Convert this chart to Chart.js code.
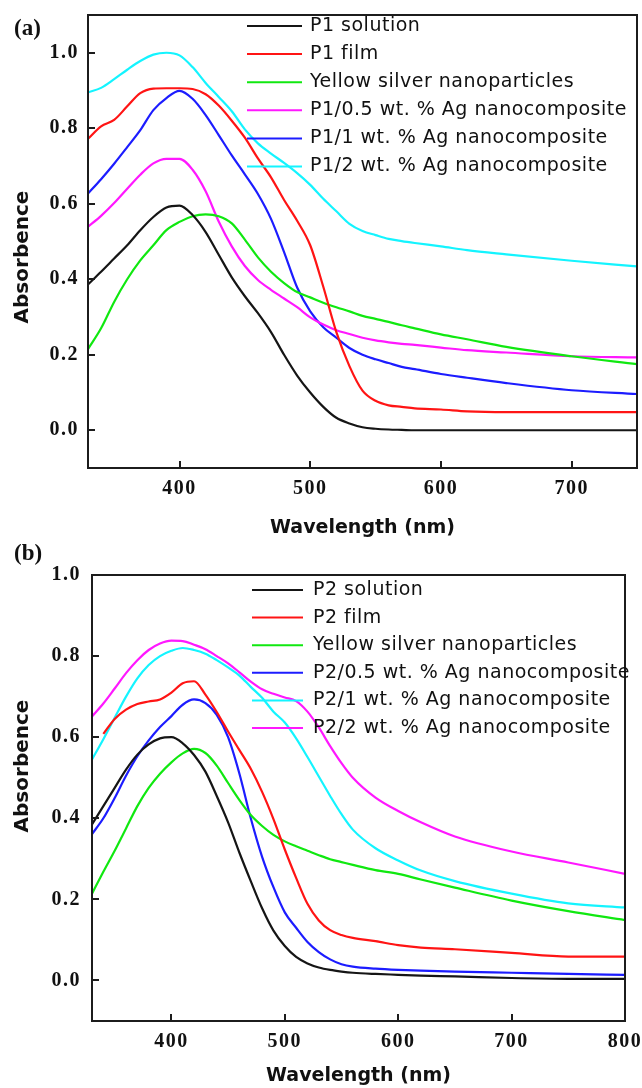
<!DOCTYPE html>
<html lang="en">
<head>
<meta charset="UTF-8">
<title>UV-vis absorbence: P1 / P2 silver nanocomposites</title>
<script src="https://cdn.jsdelivr.net/npm/chart.js@4.4.1/dist/chart.umd.min.js"></script>
<style>
  html, body { margin: 0; padding: 0; background: #fff; }
  .page { width: 642px; height: 1088px; position: relative; }
  canvas { display: block; }
</style>
</head>
<body>
<div class="page">
  <canvas id="chartA" width="642" height="544"></canvas>
  <canvas id="chartB" width="642" height="544"></canvas>
</div>
<script>
// ---------- panel (a) ----------
const wavelengthA = [330, 340, 350, 360, 370, 380, 390, 400, 410, 420, 430, 440, 450, 460, 470, 480,
                     490, 500, 510, 520, 530, 540, 550, 560, 570, 580, 600, 620, 650, 700, 750];
const p1Solution = [0.386, 0.42, 0.455, 0.49, 0.53, 0.565, 0.59, 0.595, 0.57, 0.525, 0.465, 0.405, 0.355, 0.31, 0.26, 0.2,
                    0.145, 0.1, 0.062, 0.033, 0.018, 0.008, 0.004, 0.002, 0.001, 0, 0, 0, 0, 0, 0];
const p1Film = [0.772, 0.805, 0.822, 0.858, 0.893, 0.905, 0.906, 0.906, 0.904, 0.89, 0.86, 0.82, 0.775, 0.72, 0.67, 0.61,
                0.555, 0.49, 0.38, 0.26, 0.17, 0.105, 0.078, 0.066, 0.062, 0.058, 0.055, 0.05, 0.048, 0.048, 0.048];
const silverA = [0.215, 0.27, 0.34, 0.40, 0.45, 0.49, 0.53, 0.552, 0.567, 0.572, 0.567, 0.548, 0.505, 0.458, 0.42, 0.39,
                 0.366, 0.352, 0.338, 0.326, 0.315, 0.303, 0.295, 0.287, 0.278, 0.27, 0.254, 0.241, 0.221, 0.196, 0.175];
const p1Ag05 = [0.539, 0.568, 0.602, 0.64, 0.677, 0.707, 0.719, 0.719, 0.69, 0.633, 0.553, 0.487, 0.435, 0.398, 0.372, 0.349,
                0.326, 0.299, 0.28, 0.265, 0.255, 0.245, 0.238, 0.233, 0.229, 0.226, 0.219, 0.212, 0.206, 0.196, 0.193];
const p1Ag1 = [0.627, 0.665, 0.706, 0.75, 0.795, 0.848, 0.88, 0.899, 0.878, 0.835, 0.782, 0.728, 0.678, 0.626, 0.56, 0.472,
               0.378, 0.315, 0.273, 0.245, 0.218, 0.2, 0.188, 0.178, 0.168, 0.162, 0.149, 0.139, 0.125, 0.106, 0.096];
const p1Ag2 = [0.895, 0.907, 0.93, 0.955, 0.978, 0.995, 1.0, 0.993, 0.962, 0.92, 0.883, 0.845, 0.797, 0.76, 0.733, 0.708,
               0.681, 0.65, 0.613, 0.58, 0.547, 0.528, 0.517, 0.507, 0.501, 0.496, 0.487, 0.477, 0.466, 0.449, 0.434];
const labelsA = ['P1 solution', 'P1 film', 'Yellow silver nanoparticles', 'P1/0.5 wt. % Ag nanocomposite',
                 'P1/1 wt. % Ag nanocomposite', 'P1/2 wt. % Ag nanocomposite'];
const xTicksA = [400, 500, 600, 700];

// ---------- panel (b) ----------
const wavelengthB = [330, 340, 350, 360, 370, 380, 390, 400, 410, 420, 430, 440, 450, 460, 470, 480,
                     490, 500, 510, 520, 530, 540, 550, 560, 580, 600, 620, 650, 700, 750, 800];
const p2Solution = [0.385, 0.43, 0.475, 0.52, 0.557, 0.582, 0.597, 0.6, 0.585, 0.556, 0.515, 0.455, 0.39, 0.315, 0.245, 0.178,
                    0.123, 0.085, 0.058, 0.042, 0.032, 0.026, 0.022, 0.019, 0.016, 0.014, 0.012, 0.01, 0.006, 0.004, 0.004];
const p2Film = [null, 0.608, 0.645, 0.668, 0.682, 0.688, 0.693, 0.71, 0.733, 0.738, 0.705, 0.662, 0.614, 0.568, 0.522, 0.465,
                0.398, 0.323, 0.253, 0.189, 0.148, 0.124, 0.112, 0.105, 0.097, 0.087, 0.081, 0.077, 0.068, 0.059, 0.059];
const silverB = [0.214, 0.268, 0.32, 0.375, 0.43, 0.475, 0.51, 0.538, 0.56, 0.571, 0.561, 0.53, 0.487, 0.445, 0.408, 0.381,
                 0.359, 0.343, 0.331, 0.32, 0.309, 0.299, 0.292, 0.285, 0.272, 0.263, 0.249, 0.229, 0.197, 0.171, 0.149];
const p2Ag05 = [0.361, 0.40, 0.45, 0.505, 0.553, 0.592, 0.625, 0.652, 0.68, 0.693, 0.684, 0.655, 0.6, 0.51, 0.4, 0.305,
                0.23, 0.168, 0.13, 0.095, 0.07, 0.052, 0.04, 0.034, 0.029, 0.026, 0.024, 0.022, 0.019, 0.016, 0.014];
const p2Ag1 = [0.545, 0.595, 0.648, 0.7, 0.745, 0.778, 0.8, 0.813, 0.82, 0.815, 0.806, 0.79, 0.772, 0.752, 0.724, 0.697,
               0.663, 0.636, 0.597, 0.551, 0.503, 0.455, 0.41, 0.372, 0.326, 0.296, 0.271, 0.245, 0.214, 0.19, 0.18];
const p2Ag2 = [0.651, 0.683, 0.72, 0.758, 0.79, 0.815, 0.831, 0.838, 0.837, 0.828, 0.817, 0.8, 0.782, 0.76, 0.737, 0.718,
               0.707, 0.698, 0.689, 0.663, 0.624, 0.578, 0.536, 0.5, 0.451, 0.418, 0.39, 0.355, 0.318, 0.291, 0.263];
const labelsB = ['P2 solution', 'P2 film', 'Yellow silver nanoparticles', 'P2/0.5 wt. % Ag nanocomposite',
                 'P2/1 wt. % Ag nanocomposite', 'P2/2 wt. % Ag nanocomposite'];
const xTicksB = [400, 500, 600, 700, 800];

const yTicks = [0.0, 0.2, 0.4, 0.6, 0.8, 1.0];

const BLACK = '#151515', RED = '#ff1414', GREEN = '#10e810',
      MAGENTA = '#ff18ff', BLUE = '#1c1cff', CYAN = '#14f4ff';

// frame, inner ticks, legend and the axis/panel texts
const panelDecor = {
    id: 'panelDecor',
    beforeDraw(chart) {
        // spaced-out tick numbers like the original figure
        chart.ctx.letterSpacing = '1.5px';
    },
    afterDraw(chart, args, o) {
        const { ctx, chartArea: a, scales } = chart;
        ctx.save();
        ctx.letterSpacing = '0px';
        ctx.strokeStyle = '#1c1c1c';
        ctx.lineWidth = 2;
        ctx.beginPath();
        scales.y.ticks.forEach(t => {
            const py = Math.round(scales.y.getPixelForValue(t.value));
            ctx.moveTo(a.left, py);
            ctx.lineTo(a.left + 7, py);
        });
        scales.x.ticks.forEach(t => {
            const px = Math.round(scales.x.getPixelForValue(t.value));
            ctx.moveTo(px, a.bottom);
            ctx.lineTo(px, a.bottom - 7);
        });
        ctx.stroke();
        ctx.strokeRect(a.left, a.top, a.right - a.left, a.bottom - a.top);

        // legend
        ctx.font = "19px 'DejaVu Sans'";
        ctx.letterSpacing = '0.5px';
        ctx.textBaseline = 'middle';
        ctx.textAlign = 'left';
        chart.data.datasets.forEach((ds, i) => {
            const yy = o.legendTop + i * o.legendStep;
            ctx.strokeStyle = ds.borderColor;
            ctx.beginPath();
            ctx.moveTo(o.lineFrom, yy);
            ctx.lineTo(o.lineTo, yy);
            ctx.stroke();
            ctx.fillStyle = '#111';
            ctx.fillText(ds.label, o.textX, yy);
        });
        ctx.letterSpacing = '0px';

        ctx.fillStyle = '#111';
        ctx.font = "bold 23px 'Liberation Serif'";
        ctx.fillText(o.letter, 14, o.letterY);

        ctx.font = "bold 19px 'DejaVu Sans'";
        ctx.textAlign = 'center';
        ctx.fillText('Wavelength (nm)', (a.left + a.right) / 2, o.xTitleY);

        ctx.translate(23, o.yTitleY);
        ctx.rotate(-Math.PI / 2);
        ctx.font = "bold 20px 'DejaVu Sans'";
        ctx.fillText('Absorbence', 0, 0);
        ctx.restore();
    }
};

function series(xs, ys, label, color) {
    return {
        label: label,
        data: xs.map((x, i) => ({ x: x, y: ys[i] })),
        borderColor: color,
        borderWidth: 2.2,
        pointRadius: 0,
        cubicInterpolationMode: 'monotone',
        fill: false
    };
}

const tickFont = { family: "'Liberation Serif', serif", size: 20, weight: 'bold' };

function makeChart(id, datasets, box, xMax, xTicks, decor) {
    return new Chart(document.getElementById(id), {
        type: 'line',
        data: { datasets: datasets },
        plugins: [panelDecor],
        options: {
            responsive: false,
            animation: false,
            layout: { padding: { left: 0, top: box.top, right: 642 - box.right, bottom: 0 } },
            scales: {
                x: {
                    type: 'linear', min: 330, max: xMax,
                    grid: { display: false, drawTicks: false },
                    border: { display: false },
                    afterBuildTicks: s => { s.ticks = xTicks.map(v => ({ value: v })); },
                    afterFit: s => { s.height = 544 - box.bottom; s.paddingLeft = 0; s.paddingRight = 0; },
                    ticks: { font: tickFont, color: '#111', padding: 9, maxRotation: 0,
                             callback: v => String(v) }
                },
                y: {
                    min: -0.1, max: box.yMax,
                    grid: { display: false, drawTicks: false },
                    border: { display: false },
                    afterBuildTicks: s => { s.ticks = yTicks.map(v => ({ value: v })); },
                    afterFit: s => { s.width = box.left; s.paddingTop = 0; s.paddingBottom = 0; },
                    ticks: { font: tickFont, color: '#111', padding: box.yPad,
                             callback: v => v.toFixed(1) }
                }
            },
            plugins: {
                legend: { display: false },
                tooltip: { enabled: false },
                panelDecor: decor
            }
        }
    });
}

makeChart('chartA', [
    series(wavelengthA, p1Solution, labelsA[0], BLACK),
    series(wavelengthA, p1Film, labelsA[1], RED),
    series(wavelengthA, silverA, labelsA[2], GREEN),
    series(wavelengthA, p1Ag05, labelsA[3], MAGENTA),
    series(wavelengthA, p1Ag1, labelsA[4], BLUE),
    series(wavelengthA, p1Ag2, labelsA[5], CYAN)
], { left: 88, top: 15, right: 637, bottom: 468, yMax: 1.1, yPad: 9 }, 750, xTicksA,
   { legendTop: 26, legendStep: 28.1, lineFrom: 247, lineTo: 302, textX: 310,
     letter: '(a)', letterY: 29, xTitleY: 528, yTitleY: 257 });

makeChart('chartB', [
    series(wavelengthB, p2Solution, labelsB[0], BLACK),
    series(wavelengthB, p2Film, labelsB[1], RED),
    series(wavelengthB, silverB, labelsB[2], GREEN),
    series(wavelengthB, p2Ag05, labelsB[3], BLUE),
    series(wavelengthB, p2Ag1, labelsB[4], CYAN),
    series(wavelengthB, p2Ag2, labelsB[5], MAGENTA)
], { left: 92, top: 31, right: 625, bottom: 477, yMax: 1.0, yPad: 11 }, 800, xTicksB,
   { legendTop: 46, legendStep: 27.6, lineFrom: 252, lineTo: 303, textX: 313,
     letter: '(b)', letterY: 10, xTitleY: 532, yTitleY: 222 });
</script>
</body>
</html>
